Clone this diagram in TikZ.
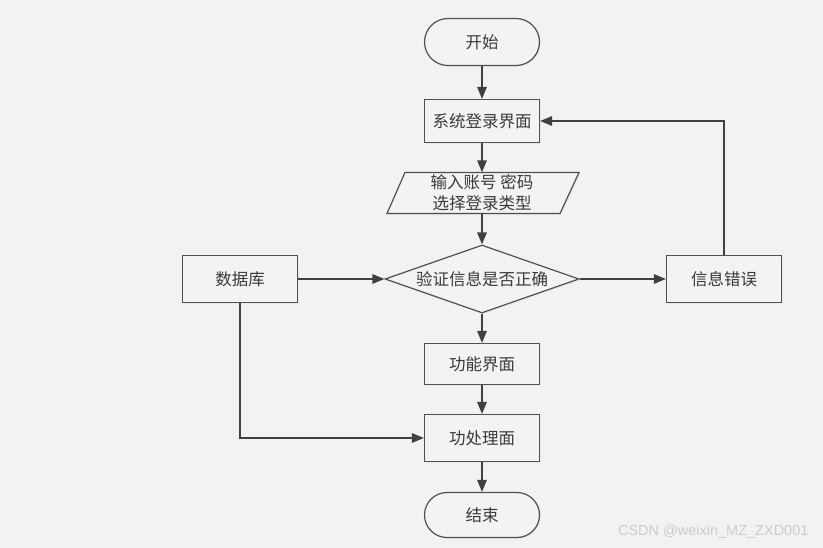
\documentclass[tikz,border=0pt]{standalone}
\usepackage{fontspec}
\setmainfont{Noto Sans CJK SC}
\newfontfamily\wmfont{Liberation Sans}
\usetikzlibrary{shapes.geometric,arrows.meta,shadows}
\definecolor{pagebg}{HTML}{F2F2F2}
\definecolor{boxfill}{HTML}{F3F3F3}
\definecolor{edgegray}{HTML}{505050}
\definecolor{linkgray}{HTML}{404040}
\definecolor{txtgray}{HTML}{3A3A3A}
\begin{document}
\begin{tikzpicture}[x=1pt,y=-1pt,
  every node/.style={font=\fontsize{16.5}{20}\selectfont, text=txtgray},
  softshadow/.style={drop shadow={shadow xshift=1.5pt,shadow yshift=-1.5pt,fill=black,opacity=0.035}},
  procbox/.style={draw=edgegray, line width=1.2pt, fill=boxfill, softshadow,
    minimum width=115pt, minimum height=47pt, inner sep=2pt},
  termbox/.style={procbox, rounded corners=23pt},
  decbox/.style={diamond, draw=edgegray, line width=1.2pt, fill=boxfill, softshadow,
    aspect=2.85, minimum width=194pt, minimum height=68pt, inner sep=0pt},
  iobox/.style={draw=edgegray, line width=1.2pt, fill=boxfill, softshadow},
  link/.style={draw=linkgray, line width=1.6pt, -{Triangle[length=12pt,width=9.5pt]}}
]
% page
\fill[pagebg] (0,0) rectangle (823,548);
\useasboundingbox (0,0) rectangle (823,548);

% terminals and process boxes
\node[termbox, minimum width=115pt, rounded corners=23.5pt] (start) at (482,42) {开始};
\node[procbox, minimum height=43pt] (login) at (482,121) {系统登录界面};

% input parallelogram
\path[iobox] (405,172.5) -- (579,172.5) -- (560,213.5) -- (387,213.5) -- cycle;
\node[minimum width=150pt, minimum height=41pt, inner sep=0pt, align=center,
  font=\fontsize{16.5}{21}\selectfont] (input) at (482,193) {输入账号 密码\\选择登录类型};

\node[decbox] (check) at (482,279) {验证信息是否正确};
\node[procbox] (db) at (240,279) {数据库};
\node[procbox] (err) at (724,279) {信息错误};
\node[procbox, minimum height=41pt] (func) at (482,364) {功能界面};
\node[procbox] (proc) at (482,438) {功处理面};
\node[termbox, minimum height=45pt, rounded corners=22.5pt] (stop) at (482,515) {结束};

% connectors
\draw[link] (start) -- (login);
\draw[link] (login) -- (input);
\draw[link] (input) -- (check);
\draw[link] (check) -- (func);
\draw[link] (func) -- (proc);
\draw[link] (proc) -- (stop);
\draw[link] (db) -- (check);
\draw[link] (check) -- (err);
\draw[link] (err.north) |- (login.east);
\draw[link] (db.south) |- (proc.west);

% watermark
\node[font=\wmfont\fontsize{14.5}{16}\selectfont, text=black!20, anchor=east] (mark) at (812,532) {CSDN @weixin\_MZ\_ZXD001};
\end{tikzpicture}
\end{document}
